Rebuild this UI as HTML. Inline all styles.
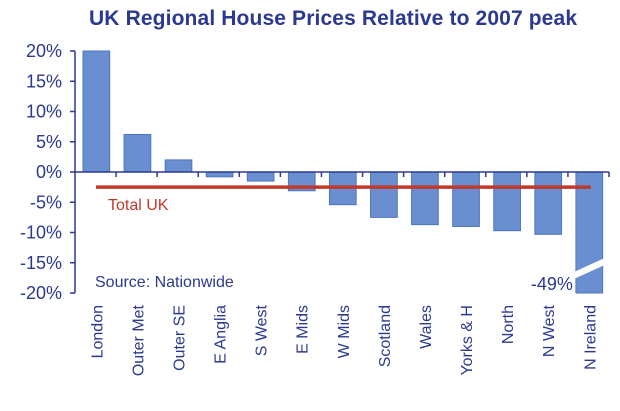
<!DOCTYPE html>
<html><head><meta charset="utf-8"><style>
body{margin:0;background:#fff;width:620px;height:406px;overflow:hidden;font-family:"Liberation Sans",sans-serif}
</style></head><body>
<svg width="620" height="406" id="c">
<text x="333" y="25" text-anchor="middle" font-size="21" font-weight="bold" fill="#2b3990" textLength="488">UK Regional House Prices Relative to 2007 peak</text>
</svg>
<script>
const categories=["London","Outer Met","Outer SE","E Anglia","S West","E Mids","W Mids","Scotland","Wales","Yorks & H","North","N West","N Ireland"];
const values=[20,6.2,2,-0.8,-1.5,-3.1,-5.4,-7.5,-8.7,-9.0,-9.7,-10.3,-49];
const totalUK=[-2.5];
const yTicks=[20,15,10,5,0,-5,-10,-15,-20];
const yMin=-20,yMax=20;
const svg=document.getElementById('c');const NS='http://www.w3.org/2000/svg';
const x0=75,x1=609,yTop=51,yBot=293;
const y=v=>yTop+(yMax-Math.max(yMin,Math.min(yMax,v)))/(yMax-yMin)*(yBot-yTop);
const cw=(x1-x0)/categories.length;
const xs=i=>x0+i*cw;
function mk(t,a){const e=document.createElementNS(NS,t);for(const k in a)e.setAttribute(k,a[k]);svg.appendChild(e);return e;}
values.forEach((v,i)=>{
 const a=y(0),b=y(v);
 const r=mk('rect',{x:xs(i)+8,y:Math.min(a,b),width:cw*0.65,height:Math.abs(b-a),fill:'#6a8fd0',stroke:'#4d74c2','stroke-width':1});
 
 
 if(v<yMin){
  const bx=xs(i)+6,bw=cw*0.65+4;
  const p=mk('polygon',{points:`${bx},${yBot-21} ${bx+bw},${yBot-35} ${bx+bw},${yBot-28} ${bx},${yBot-14}`,fill:'#fff'});
  
  
  const t=mk('text',{x:xs(i)+5,y:yBot-3,'text-anchor':'end','font-size':18,fill:'#2b3990'});
  t.textContent=v+'%';
  
  
 }
});
let ax=mk('line',{x1:x0,y1:yTop,x2:x0,y2:yBot,stroke:'#2b3990','stroke-width':1.5});

yTicks.forEach(t=>{
 const l=mk('line',{x1:x0-5,y1:y(t),x2:x0,y2:y(t),stroke:'#2b3990','stroke-width':1.5});
 
 const tx=mk('text',{x:62,y:y(t)+6,'text-anchor':'end','font-size':18,fill:'#2b3990'});
 tx.textContent=t+'%';
 
});
let xa=mk('line',{x1:x0,y1:y(0),x2:x1,y2:y(0),stroke:'#2b3990','stroke-width':1.5});

categories.forEach((c,i)=>{
 const l=mk('line',{x1:xs(i+1),y1:y(0),x2:xs(i+1),y2:y(0)+5,stroke:'#2b3990','stroke-width':1.5});
 
 const cx=xs(i)+8+cw*0.325+6;
 const t=mk('text',{x:cx,y:305,'text-anchor':'end','font-size':16,fill:'#2b3990',transform:`rotate(-90 ${cx} 305)`});
 t.textContent=c;
 
});
const tl=mk('line',{x1:96,y1:y(totalUK[0]),x2:591,y2:y(totalUK[0]),stroke:'#c0392b','stroke-width':3.5});

const tt=mk('text',{x:108,y:210,'font-size':16,fill:'#c0392b'});tt.textContent='Total UK';

const st=mk('text',{x:95,y:287,'font-size':16,fill:'#2b3990'});st.textContent='Source: Nationwide';

</script>
</body></html>
